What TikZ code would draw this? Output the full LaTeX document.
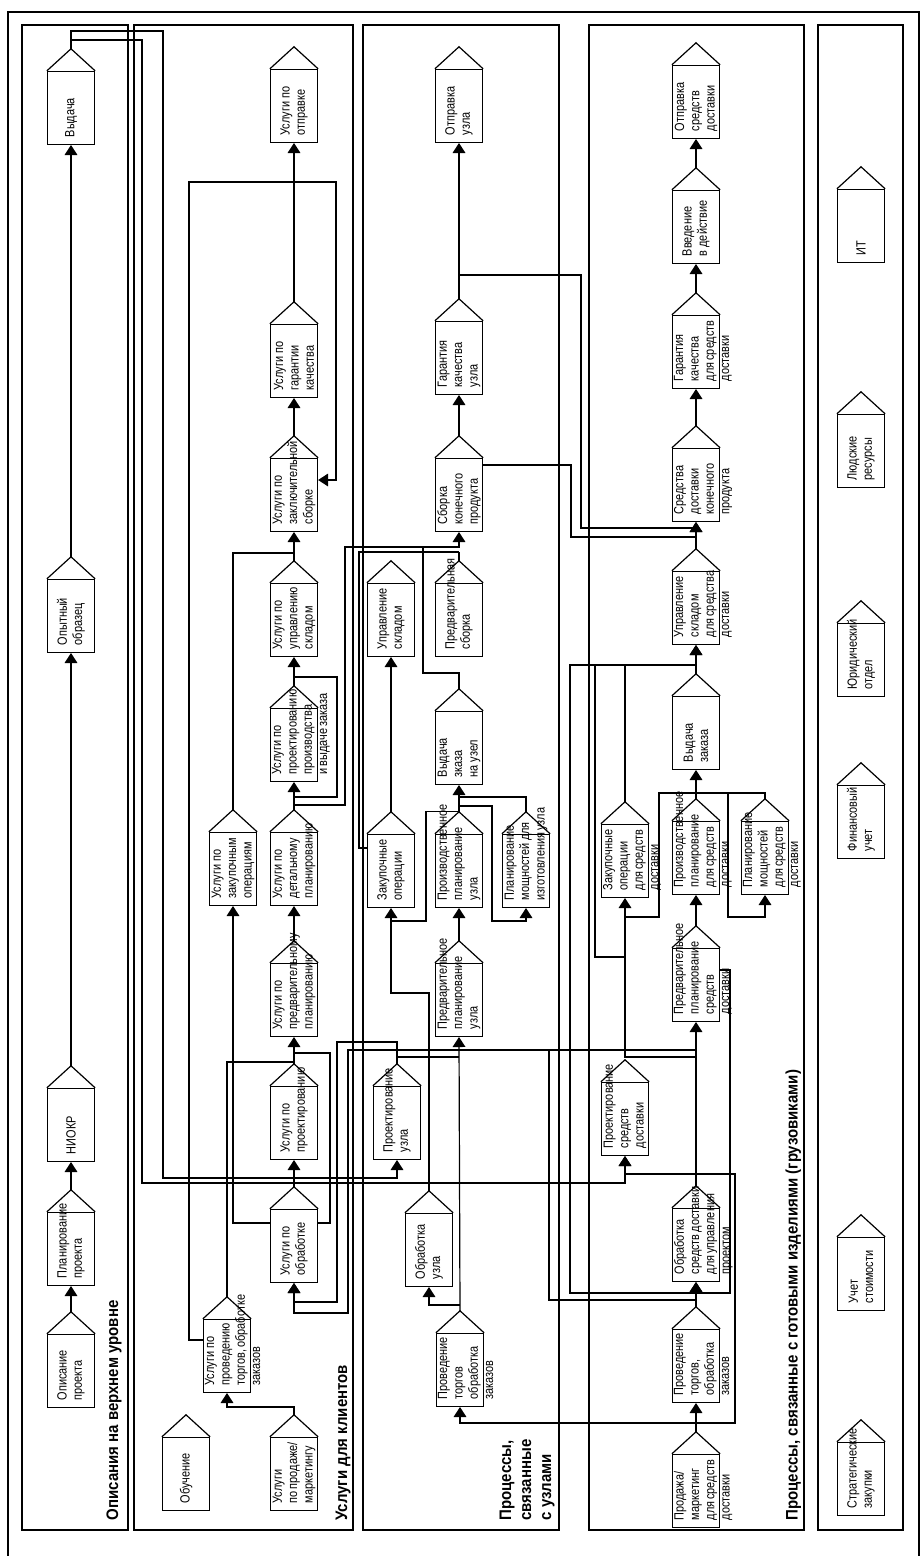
\documentclass[tikz,border=0pt]{standalone}
\usepackage{fontspec}
\setmainfont{Liberation Sans}[FakeStretch=0.82]
\newfontfamily\lanefont{Liberation Sans}[FakeStretch=0.9]
\usepackage{graphicx}
\usetikzlibrary{arrows.meta}
\newcommand{\vtxt}[2][c]{\rotatebox{90}{\parbox[c][33pt][#1]{44pt}{\raggedright #2}}}

\begin{document}
\begin{tikzpicture}[
  x=0.75pt, y=-0.75pt, line width=0.9pt,
  box/.style={draw, rectangle, anchor=south, minimum width=35.25pt, minimum height=54.75pt,
    inner sep=0pt, font=\fontsize{10}{11.5}\selectfont},
  flow/.style={-{Triangle[length=7.5pt, width=9.5pt]}},
  lane/.style={rotate=90, anchor=north west, align=left, inner sep=0pt,
    font=\lanefont\bfseries\fontsize{12.5}{15}\selectfont},
]
\useasboundingbox (0,0) rectangle (921,1556);

% frame and lanes
\draw (8,1556) -- (8,12) -- (919,12) -- (919,1556);
\draw (22,25) rectangle (128,1530);
\draw (134,25) rectangle (353,1530);
\draw (363,25) rectangle (559,1530);
\draw (589,25) rectangle (804,1530);
\draw (818,25) rectangle (903,1530);

\node[lane] (l1) at (106,1521) {Описания на верхнем уровне};
\node[lane] (l2) at (335,1521) {Услуги для клиентов};
\node[lane] (l3) at (499,1521) {Процессы,\\связанные\\с узлами};
\node[lane] (l4) at (785,1521) {Процессы, связанные с готовыми изделиями (грузовиками)};

% top level
\node[box] (vyd) at (71,145) {\vtxt{Выдача}};
\node[box] (opyt) at (71,653) {\vtxt{Опытный\\образец}};
\node[box] (niokr) at (71,1162) {\vtxt{НИОКР}};
\node[box] (planp) at (71,1286) {\vtxt{Планирование\\проекта}};
\node[box] (opis) at (71,1408) {\vtxt{Описание\\проекта}};

% client services
\node[box] (uotpr) at (294,143) {\vtxt{Услуги~по\\отправке}};
\node[box] (ugar) at (294,398) {\vtxt{Услуги~по\\гарантии\\качества}};
\node[box] (uzakl) at (294,532) {\vtxt{Услуги~по\\заключительной\\сборке}};
\node[box] (usklad) at (294,657) {\vtxt{Услуги~по\\управлению\\складом}};
\node[box] (uproizv) at (294,782) {\vtxt[t]{Услуги~по\\проектированию\\производства\\и~выдаче~заказа}};
\node[box] (uzak) at (233,906) {\vtxt{Услуги~по\\закупочным\\операциям}};
\node[box] (udet) at (294,906) {\vtxt{Услуги~по\\детальному\\планированию}};
\node[box] (upred) at (294,1037) {\vtxt{Услуги~по\\предварительному\\планированию}};
\node[box] (uproekt) at (294,1160) {\vtxt{Услуги~по\\проектированию}};
\node[box] (uobr) at (294,1283) {\vtxt{Услуги~по\\обработке}};
\node[box] (utorg) at (227,1393) {\vtxt[t]{Услуги~по\\проведению\\торгов,~обработке\\заказов}};
\node[box] (uobuch) at (186,1511) {\vtxt{Обучение}};
\node[box] (uprod) at (294,1511) {\vtxt{Услуги\\по~продаже/\\маркетингу}};

% unit processes
\node[box] (otpr) at (459,143) {\vtxt{Отправка\\узла}};
\node[box] (garu) at (459,395) {\vtxt{Гарантия\\качества\\узла}};
\node[box] (sbor) at (459,532) {\vtxt{Сборка\\конечного\\продукта}};
\node[box] (sklad) at (391,657) {\vtxt{Управление\\складом}};
\node[box] (predsb) at (459,657) {\vtxt{Предварительная\\сборка}};
\node[box] (vydz) at (459,785) {\vtxt{Выдача\\зказа\\на~узел}};
\node[box] (zakup) at (391,908) {\vtxt{Закупочные\\операции}};
\node[box] (pplan) at (459,908) {\vtxt{Производственное\\планирование\\узла}};
\node[box] (mosh) at (526,908) {\vtxt{Планирование\\мощностей~для\\изготовления~узла}};
\node[box] (predpl) at (459,1037) {\vtxt{Предварительное\\планирование\\узла}};
\node[box] (proekt) at (397,1160) {\vtxt{Проектирование\\узла}};
\node[box] (obru) at (429,1287) {\vtxt{Обработка\\узла}};
\node[box] (torg) at (460,1407) {\vtxt[t]{Проведение\\торгов\\обработка\\заказов}};

% truck processes
\node[box] (otprs) at (696,139) {\vtxt{Отправка\\средств\\доставки}};
\node[box] (vved) at (696,264) {\vtxt{Введение\\в~действие}};
\node[box] (gars) at (696,389) {\vtxt[t]{Гарантия\\качества\\для~средств\\доставки}};
\node[box] (sredk) at (696,522) {\vtxt[t]{Средства\\доставки\\конечного\\продукта}};
\node[box] (sklads) at (696,645) {\vtxt[t]{Управление\\складом\\для~средства\\доставки}};
\node[box] (vydzs) at (696,770) {\vtxt{Выдача\\заказа}};
\node[box] (zakups) at (625,898) {\vtxt[t]{Закупочные\\операции\\для~средств\\доставки}};
\node[box] (pplans) at (696,895) {\vtxt[t]{Производственное\\планирование\\для~средств\\доставки}};
\node[box] (moshs) at (765,895) {\vtxt[t]{Планирование\\мощностей\\для~средств\\доставки}};
\node[box] (predpls) at (696,1022) {\vtxt[t]{Предварительное\\планирование\\средств\\доставки}};
\node[box] (proekts) at (625,1156) {\vtxt{Проектирование\\средств\\доставки}};
\node[box] (obrs) at (696,1282) {\vtxt[t]{Обработка\\средств~доставки\\для~управления\\проектом}};
\node[box] (torgs) at (696,1403) {\vtxt[t]{Проведение\\торгов,\\обработка\\заказов}};
\node[box] (prods) at (696,1528) {\vtxt[t]{Продажа/\\маркетинг\\для~средств\\доставки}};

% support
\node[box] (it) at (861,263) {\vtxt{ИТ}};
\node[box] (hr) at (861,488) {\vtxt{Людские\\ресурсы}};
\node[box] (jur) at (861,697) {\vtxt{Юридический\\отдел}};
\node[box] (fin) at (861,859) {\vtxt{Финансовый\\учет}};
\node[box] (cost) at (861,1311) {\vtxt{Учет\\стоимости}};
\node[box] (strat) at (861,1516) {\vtxt{Стратегические\\закупки}};

% roofs
\foreach \n in {vyd,opyt,niokr,planp,opis,%
uotpr,ugar,uzakl,usklad,uproizv,uzak,udet,upred,uproekt,uobr,utorg,uobuch,uprod,%
otpr,garu,sbor,sklad,predsb,vydz,zakup,pplan,mosh,predpl,proekt,obru,torg,%
otprs,vved,gars,sredk,sklads,vydzs,zakups,pplans,moshs,predpls,proekts,obrs,torgs,prods,%
it,hr,jur,fin,cost,strat}
  \draw (\n.north west) -- ([yshift=16.5pt]\n.north) coordinate (\n-t) -- (\n.north east);

% top level
\draw[flow] (opis-t) -- (planp.south);
\draw[flow] (planp-t) -- (niokr.south);
\draw[flow] (niokr-t) -- (opyt.south);
\draw[flow] (opyt-t) -- (vyd.south);
\draw[flow] (vyd-t) |- (163,31) |- (proekt.south |- 0,1178) -- (proekt.south);
\draw[flow] (vyd-t |- 0,40) -| (142,1183) -- (proekts.south |- 0,1183) -- (proekts.south);

% client services
\draw[flow] (uprod-t) |- (utorg.south |- 0,1407) -- (utorg.south);
\draw[flow] (utorg.west |- 0,1340) -| (189,182) -| (336,480) -- (uzakl.east |- 0,480);
\draw (utorg-t) |- (upred.south |- 0,1062);
\draw[flow] (uobr-t) -- (uproekt.south);
\draw[flow] (uproekt-t) -- (upred.south);
\draw (uobr.east |- 0,1223) -| (330,1053) -- (upred.south |- 0,1053);
\draw[flow] (uobr.west |- 0,1223) -| (uzak.south);
\draw[flow] (upred-t) -- (udet.south);
\draw[flow] (udet-t) -- (uproizv.south);
\draw (uproizv.south |- 0,797) -| (337,677) -- (usklad.south |- 0,677);
\draw[flow] (udet-t |- 0,805) -| (345,547) -| (sbor.south);
\draw[flow] (uproizv-t) -- (usklad.south);
\draw[flow] (usklad-t) -- (uzakl.south);
\draw (uzak-t) |- (uzakl.south |- 0,553);
\draw[flow] (uzakl-t) -- (ugar.south);
\draw[flow] (ugar-t) -- (uotpr.south);
\draw[flow] (proekt-t) |- (337,1042) |- (uobr.south |- 0,1302) -- (uobr.south);
\draw[flow] (predpls.south |- 0,1050) -| (348,1313) -- (uobr.south |- 0,1313) -- (uobr.south);

% unit processes
\draw[flow] (torg-t) -- (predpl.south);
\draw[flow] (torg-t |- 0,1305) -| (obru.south);
\draw (proekt-t) |- (predpl.south |- 0,1057);
\draw[flow] (obru-t) |- (zakup.south |- 0,993) -- (zakup.south);
\draw (pplan-t) -| (426,921) -- (zakup.south |- 0,921);
\draw[flow] (predpl-t) -- (pplan.south);
\draw[flow] (pplan-t) -- (vydz.south);
\draw (mosh-t) |- (vydz.south |- 0,797);
\draw[flow] (pplan-t |- 0,806) -| (492,921) -| (mosh.south);
\draw[flow] (zakup-t) -- (sklad.south);
\draw (zakup.west |- 0,848) -| (359,552) -- (sbor.south |- 0,552);
\draw (vydz-t) |- (423,673) -- (423,547);
\draw (predsb-t) -- (sbor.south |- 0,552);
\draw[flow] (sbor-t) -- (garu.south);
\draw[flow] (garu-t) -- (otpr.south);
\draw (otpr.south |- 0,275) -| (581,528) -- (sredk.south |- 0,528);
\draw[flow] (sbor.east |- 0,465) -| (571,537) -| (sredk.south);

% truck processes
\draw[flow] (prods-t) -- (torgs.south);
\draw[flow] (torgs-t) -- (obrs.south);
\draw[flow] (obrs-t) -- (predpls.south);
\draw[flow] (prods-t |- 0,1423) -| (torg.south);
\draw[flow] (prods-t |- 0,1423) -| (735,1174) -| (proekts.south);
\draw[flow] (549,1050) |- (obrs.south |- 0,1300) -- (obrs.south);
\draw[flow] (predpls.east |- 0,970) -| (730,1293) -| (570,665) -| (sklads.south);
\draw[flow] (vydzs-t) -- (sklads.south);
\draw (zakups-t) -- (zakups-t |- 0,665);
\draw (595,665) |- (zakups.south |- 0,957);
\draw[flow] (predpls.south |- 0,1057) -| (zakups.south);
\draw (vydzs.south |- 0,793) -| (659,917) -- (zakups.south |- 0,917);
\draw[flow] (pplans-t) -- (vydzs.south);
\draw (moshs-t) |- (vydzs.south |- 0,793);
\draw[flow] (728,793) |- (moshs.south |- 0,917) -- (moshs.south);
\draw[flow] (predpls-t) -- (pplans.south);
\draw[flow] (sklads-t) -- (sredk.south);
\draw[flow] (sredk-t) -- (gars.south);
\draw[flow] (gars-t) -- (vved.south);
\draw[flow] (vved-t) -- (otprs.south);
\end{tikzpicture}
\end{document}
